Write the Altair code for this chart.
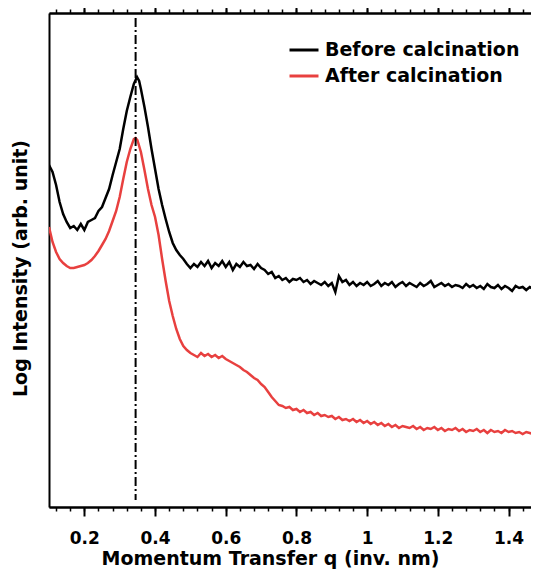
import altair as alt
import pandas as pd

# ---- data (q in inv. nm, log intensity in arbitrary units) ----
q_before = [0.10, 0.11, 0.12, 0.13, 0.14, 0.15, 0.16, 0.17, 0.18, 0.19, 0.20, 0.21, 0.22, 0.23, 0.24,
            0.25, 0.26, 0.27, 0.28, 0.29, 0.30, 0.31, 0.32, 0.33, 0.34, 0.349, 0.355, 0.36, 0.37, 0.38,
            0.39, 0.40, 0.41, 0.42, 0.43, 0.44, 0.45, 0.46, 0.47, 0.48, 0.49, 0.50, 0.51, 0.52, 0.53,
            0.54, 0.55, 0.56, 0.57, 0.58, 0.59, 0.60, 0.61, 0.62, 0.63, 0.64, 0.65, 0.66, 0.67, 0.68,
            0.69, 0.70, 0.71, 0.72, 0.73, 0.74, 0.75, 0.76, 0.77, 0.78, 0.79, 0.80, 0.81, 0.82, 0.83,
            0.84, 0.85, 0.86, 0.87, 0.88, 0.89, 0.90, 0.91, 0.92, 0.93, 0.94, 0.95, 0.96, 0.97, 0.98,
            0.99, 1.00, 1.01, 1.02, 1.03, 1.04, 1.05, 1.06, 1.07, 1.08, 1.09, 1.10, 1.11, 1.12, 1.13,
            1.14, 1.15, 1.16, 1.17, 1.18, 1.19, 1.20, 1.21, 1.22, 1.23, 1.24, 1.25, 1.26, 1.27, 1.28,
            1.29, 1.30, 1.31, 1.32, 1.33, 1.34, 1.35, 1.36, 1.37, 1.38, 1.39, 1.40, 1.41, 1.42, 1.43,
            1.44, 1.45, 1.46, 1.47, 1.48]
i_before = [342, 335, 322, 305, 293, 285, 279, 281, 277, 283, 277, 285, 287, 289, 296,
            300, 309, 318, 332, 345, 358, 378, 396, 410, 423, 430, 426, 418, 400, 380,
            358, 338, 318, 302, 288, 275, 264, 257, 252, 248, 243, 239, 243, 240, 245,
            241, 246, 239, 244, 241, 246, 240, 245, 237, 243, 240, 245, 241, 242, 238,
            243, 239, 237, 233, 235, 229, 231, 227, 229, 225, 228, 227, 229, 225, 227,
            223, 226, 224, 222, 225, 221, 224, 215, 231, 225, 227, 222, 225, 221, 224,
            222, 225, 221, 223, 226, 221, 224, 222, 225, 220, 223, 225, 221, 224, 222,
            220, 224, 221, 223, 226, 220, 222, 224, 221, 223, 220, 222, 221, 219, 223,
            220, 222, 219, 221, 218, 223, 220, 219, 222, 218, 221, 219, 216, 221, 219,
            220, 217, 220, 218, 216]

q_after = [0.10, 0.11, 0.12, 0.13, 0.14, 0.15, 0.16, 0.17, 0.18, 0.19, 0.20, 0.21, 0.22, 0.23, 0.24,
           0.25, 0.26, 0.27, 0.28, 0.29, 0.30, 0.31, 0.32, 0.33, 0.34, 0.345, 0.35, 0.36, 0.37, 0.38,
           0.39, 0.40, 0.41, 0.42, 0.43, 0.44, 0.45, 0.46, 0.47, 0.48, 0.49, 0.50, 0.51, 0.52, 0.53,
           0.54, 0.55, 0.56, 0.57, 0.58, 0.59, 0.60, 0.61, 0.62, 0.63, 0.64, 0.65, 0.66, 0.67, 0.68,
           0.69, 0.70, 0.71, 0.72, 0.73, 0.74, 0.75, 0.76, 0.77, 0.78, 0.79, 0.80, 0.81, 0.82, 0.83,
           0.84, 0.85, 0.86, 0.87, 0.88, 0.89, 0.90, 0.91, 0.92, 0.93, 0.94, 0.95, 0.96, 0.97, 0.98,
           0.99, 1.00, 1.01, 1.02, 1.03, 1.04, 1.05, 1.06, 1.07, 1.08, 1.09, 1.10, 1.11, 1.12, 1.13,
           1.14, 1.15, 1.16, 1.17, 1.18, 1.19, 1.20, 1.21, 1.22, 1.23, 1.24, 1.25, 1.26, 1.27, 1.28,
           1.29, 1.30, 1.31, 1.32, 1.33, 1.34, 1.35, 1.36, 1.37, 1.38, 1.39, 1.40, 1.41, 1.42, 1.43,
           1.44, 1.45, 1.46, 1.47, 1.48]
i_after = [280, 265, 255, 248, 244, 241, 239, 239, 240, 241, 242, 244, 247, 251, 256,
           262, 268, 276, 286, 296, 310, 328, 345, 358, 368, 369, 367, 355, 337, 318,
           302, 290, 272, 248, 226, 206, 191, 178, 168, 161, 157, 154, 152, 150, 154,
           151, 153, 150, 152, 149, 151, 148, 146, 144, 142, 140, 137, 135, 132, 129,
           127, 123, 120, 115, 110, 106, 102, 101, 99, 100, 97, 98, 95, 97, 94,
           95, 92, 94, 91, 92, 90, 91, 88, 90, 87, 88, 86, 88, 85, 87,
           84, 86, 83, 85, 82, 84, 81, 83, 80, 82, 79, 81, 80, 79, 81,
           78, 80, 77, 79, 78, 80, 77, 79, 76, 78, 77, 79, 76, 78, 75,
           77, 76, 78, 75, 77, 74, 77, 75, 76, 74, 77, 75, 76, 74, 75,
           73, 75, 74, 73, 78]

series_names = ["Before calcination", "After calcination"]
series_colors = ["#000000", "#e8403f"]
peak_q = [0.345]
major_ticks = [0.2, 0.4, 0.6, 0.8, 1.0, 1.2, 1.4]
minor_ticks = [round(0.12 + 0.04 * k, 2) for k in range(34)]

df = pd.DataFrame({
    "q": q_before + q_after,
    "intensity": i_before + i_after,
    "sample": [series_names[0]] * len(q_before) + [series_names[1]] * len(q_after),
})
peak_df = pd.DataFrame({"q": peak_q})

FONT = "DejaVu Sans"
xscale = alt.Scale(domain=[0.1, 1.4635], nice=False, zero=False)
yscale = alt.Scale(domain=[0, 494], nice=False, zero=False)

yaxis = alt.Axis(title="Log Intensity (arb. unit)", labels=False, ticks=False, grid=False,
                 domainColor="black", domainWidth=2, titleFont=FONT, titleFontSize=19,
                 titleFontWeight="bold", titleColor="black", titlePadding=19, titleY=255)

def xaxis(orient, values, size, labels, title=None, width=2):
    kw = dict(orient=orient, values=values, tickSize=size, tickWidth=width, tickColor="black",
              labels=labels, grid=False, domainColor="black", domainWidth=2)
    if labels:
        kw.update(format="~g", labelFont=FONT, labelFontSize=17, labelFontWeight="bold",
                  labelColor="black", labelPadding=14)
    if title:
        kw.update(title=title, titleFont=FONT, titleFontSize=19, titleFontWeight="bold",
                  titleColor="black", titleX=221, titleY=57, titleBaseline="alphabetic")
    else:
        kw.update(title=None)
    return alt.Axis(**kw)

color = alt.Color("sample:N", scale=alt.Scale(domain=series_names, range=series_colors),
                  legend=alt.Legend(title=None, orient="none", legendX=239, legendY=21,
                                    symbolType="stroke", symbolSize=841, symbolStrokeWidth=3,
                                    labelFont=FONT, labelFontSize=19, labelFontWeight="bold",
                                    labelColor="black", labelOffset=5, rowPadding=-1,
                                    labelLimit=0))

lines = alt.Chart(df).mark_line(strokeWidth=2.5, clip=True).encode(
    x=alt.X("q:Q", scale=xscale,
            axis=xaxis("bottom", major_ticks, 9, True, "Momentum Transfer q (inv. nm)")),
    y=alt.Y("intensity:Q", scale=yscale, axis=yaxis),
    color=color,
)

peak = alt.Chart(peak_df).mark_rule(strokeWidth=2, color="black", strokeDash=[9, 3, 2, 3]).encode(
    x=alt.X("q:Q", scale=xscale, axis=xaxis("bottom", minor_ticks, 4, False, width=1.5)),
    y=alt.value(5),
    y2=alt.value(487),
)

top_major = alt.Chart(peak_df).mark_rule(opacity=0).encode(
    x=alt.X("q:Q", scale=xscale, axis=xaxis("top", major_ticks, 9, False)),
    y=alt.value(5),
    y2=alt.value(6),
)
top_minor = alt.Chart(peak_df).mark_rule(opacity=0).encode(
    x=alt.X("q:Q", scale=xscale, axis=xaxis("top", minor_ticks, 4, False, width=1.5)),
    y=alt.value(5),
    y2=alt.value(6),
)

chart = alt.layer(lines, peak, top_major, top_minor).resolve_axis(x="independent").properties(
    width=482, height=494,
    padding={"left": 41, "top": 5, "right": 0, "bottom": 62},
    autosize=alt.AutoSizeParams(type="none"),
).configure_view(stroke=None)

chart.save("out.html", embed_options={"renderer": "svg", "actions": False})
